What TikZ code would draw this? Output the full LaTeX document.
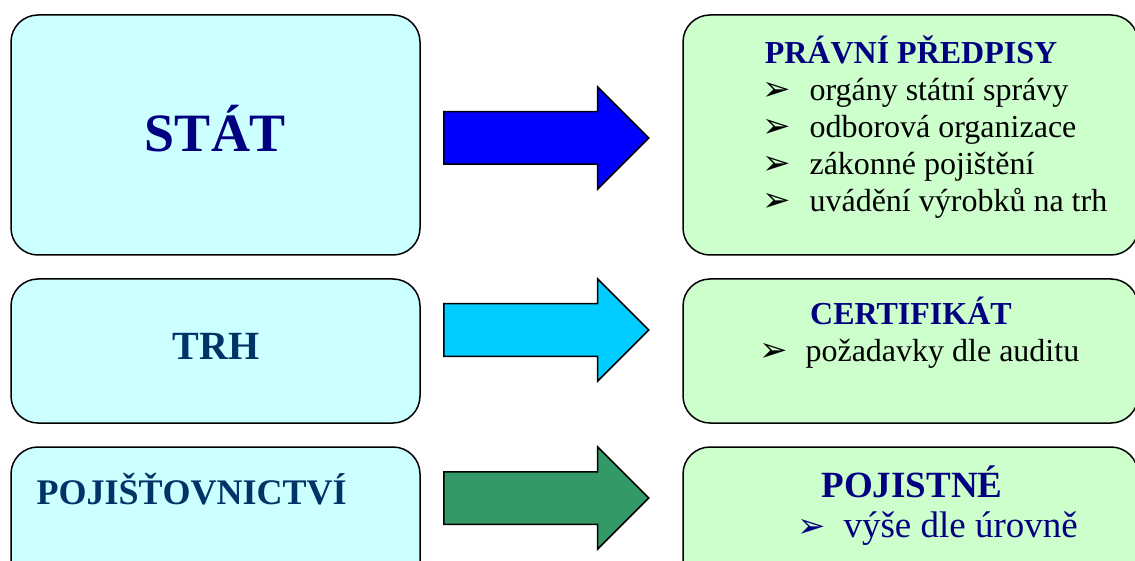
\documentclass[tikz,border=0pt]{standalone}
\usepackage{fontspec}
\setmainfont{Liberation Serif}
\newfontfamily\symfont{DejaVu Sans}
\usetikzlibrary{shapes.arrows}

\definecolor{boxcyan}{RGB}{204,255,255}
\definecolor{boxgreen}{RGB}{204,255,204}
\definecolor{navyblue}{RGB}{0,0,128}
\definecolor{deepnavy}{RGB}{0,51,102}
\definecolor{arrowblue}{RGB}{0,0,255}
\definecolor{arrowsky}{RGB}{0,204,255}
\definecolor{arrowgreen}{RGB}{51,153,102}

\tikzset{
  panel/.style={draw=black, line width=1.5pt, rounded corners=27pt, inner sep=0pt},
  leftpanel/.style={panel, fill=boxcyan, minimum width=409pt},
  rightpanel/.style={panel, fill=boxgreen, minimum width=455pt},
  bigarrow/.style={single arrow, draw=black, line width=1.5pt, inner xsep=0pt, inner ysep=25.5pt,
    minimum height=205pt, single arrow head extend=25pt, anchor=tail},
  heading/.style={font=\bfseries\fontsize{32}{32}\selectfont, text=navyblue, anchor=base},
  item/.style={font=\fontsize{32}{32}\selectfont, anchor=base west},
  bul/.style={font=\symfont\fontsize{34}{34}\selectfont, anchor=base west, inner sep=0pt},
}

\begin{document}
\begin{tikzpicture}[x=1pt, y=-1pt]
    \useasboundingbox (0,0) rectangle (1135,561);
    \clip (0,0) rectangle (1135,561);

    % 1. Left column (who sets the rules)
    \node[leftpanel, minimum height=240pt] (stat) at (215.5,135) {};
    \node[leftpanel, minimum height=144pt] (trh)  at (215.5,351) {};
    \node[leftpanel, minimum height=144pt] (poj)  at (215.5,519) {};

    \node[anchor=base, text=navyblue, font=\bfseries\fontsize{54}{54}\selectfont] (statlbl) at (215.5,152) {STÁT};
    \node[anchor=base, text=deepnavy, font=\bfseries\fontsize{40}{40}\selectfont] (trhlbl) at (216,359) {TRH};
    \node[anchor=base west, text=deepnavy, font=\bfseries\fontsize{36}{36}\selectfont] (pojlbl) at (33,504) {POJIŠŤOVNICTVÍ};

    % 2. Right column (what follows from it)
    \node[rightpanel, minimum height=240pt] (pravo) at (910.5,135) {};
    \node[rightpanel, minimum height=144pt] (cert)  at (910.5,351) {};
    \node[rightpanel, minimum height=144pt] (pojst) at (910.5,519) {};

    \node[heading] (pravolbl) at (911,64) {PRÁVNÍ PŘEDPISY};
    \foreach \txt [count=\i from 0] in {orgány státní správy, odborová organizace, zákonné pojištění, uvádění výrobků na trh} {
        \node[bul] (pb\i) at (762,101+36.7*\i) {➢};
        \node[item] (pl\i) at (806,101+36.7*\i) {\txt};
    }

    \node[heading] (certlbl) at (911,324) {CERTIFIKÁT};
    \node[bul] (cb) at (759,361) {➢};
    \node[item] (cl) at (802,361) {požadavky dle auditu};

    \node[heading, font=\bfseries\fontsize{37}{37}\selectfont] (pojstlbl) at (912,497) {POJISTNÉ};
    \node[bul, text=navyblue] (jb) at (797,537) {➢};
    \node[item, text=navyblue, font=\fontsize{37}{37}\selectfont] (jl) at (840,537) {výše dle úrovně};

    % 3. Block arrows between the columns
    \node[bigarrow, fill=arrowblue]  (a1) at (443,138) {};
    \node[bigarrow, fill=arrowsky]   (a2) at (443,330) {};
    \node[bigarrow, fill=arrowgreen] (a3) at (443,498) {};
\end{tikzpicture}
\end{document}
